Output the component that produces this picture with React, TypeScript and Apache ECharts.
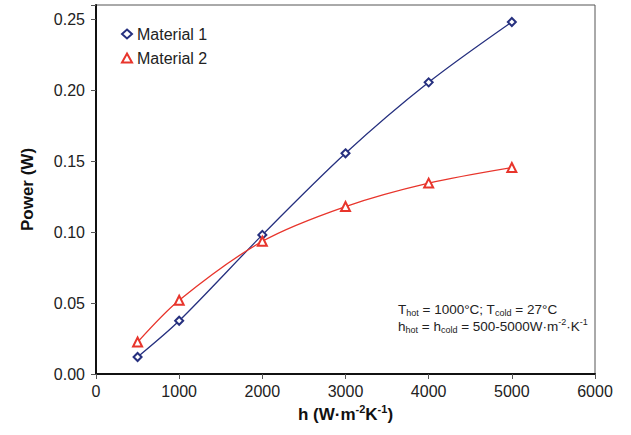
import React, { useEffect, useRef } from "react";
import * as echarts from "echarts";

const hValues = [500, 1000, 2000, 3000, 4000, 5000];
const material1 = [0.012, 0.0375, 0.098, 0.1555, 0.2055, 0.248];
const material2 = [0.0225, 0.052, 0.0935, 0.118, 0.1345, 0.1455];
const seriesNames = ["Material 1", "Material 2"];
const xTicks = { min: 0, max: 6000, interval: 1000 };
const yTicks = { min: 0, max: 0.26, interval: 0.05 };

const FONT = "Liberation Sans, Arial, Helvetica, sans-serif";
const BLUE = "#26307f";
const RED = "#e8352c";

export default function App() {
  const ref = useRef<HTMLDivElement>(null);
  useEffect(() => {
    if (!ref.current) return;
    const chart = echarts.init(ref.current, undefined, { renderer: "svg" });
    chart.setOption({
      animation: false,
      textStyle: { fontFamily: FONT },
      grid: {
        left: 96,
        right: 36,
        top: 5,
        bottom: 61,
        show: true,
        borderColor: "#555",
        borderWidth: 1,
        backgroundColor: "transparent",
      },
      legend: {
        orient: "vertical",
        left: 116,
        top: 21,
        itemGap: 8,
        itemWidth: 10,
        itemHeight: 9,
        textStyle: { fontSize: 16, color: "#222", fontFamily: FONT },
        data: [
          { name: seriesNames[0], icon: "emptyDiamond" },
          { name: seriesNames[1], icon: "emptyTriangle" },
        ],
      },
      xAxis: {
        type: "value",
        min: xTicks.min,
        max: xTicks.max,
        interval: xTicks.interval,
        name: "{b|h (W·m}{sup|-2}{b|K}{sup|-1}{b|)}",
        nameLocation: "middle",
        nameGap: 27,
        nameTextStyle: {
          rich: {
            b: { fontSize: 17, fontWeight: "bold", color: "#111", fontFamily: FONT, lineHeight: 19, verticalAlign: "bottom" },
            sup: { fontSize: 11, fontWeight: "bold", color: "#111", fontFamily: FONT, lineHeight: 19, verticalAlign: "top" },
          },
        },
        axisLine: { show: true, onZero: false, lineStyle: { color: "#111", width: 2 } },
        axisTick: { show: true, length: 5, lineStyle: { color: "#555", width: 1 } },
        axisLabel: {
          fontSize: 16,
          color: "#222",
          margin: 9,
          fontFamily: FONT,
          formatter: (v: number) => String(v),
        },
        splitLine: { show: false },
      },
      yAxis: {
        type: "value",
        min: yTicks.min,
        max: yTicks.max,
        interval: yTicks.interval,
        name: "Power (W)",
        nameLocation: "middle",
        nameGap: 60,
        nameTextStyle: { fontSize: 17, fontWeight: "bold", color: "#111", fontFamily: FONT },
        axisLine: { show: true, onZero: false, lineStyle: { color: "#111", width: 2 } },
        axisTick: { show: true, length: 5, lineStyle: { color: "#555", width: 1 } },
        axisLabel: {
          fontSize: 16,
          color: "#222",
          margin: 11,
          fontFamily: FONT,
          formatter: (v: number) => {
            const k = v / yTicks.interval;
            return Math.abs(k - Math.round(k)) < 1e-6 ? v.toFixed(2) : "";
          },
        },
        splitLine: { show: false },
      },
      series: [
        {
          name: seriesNames[0],
          type: "line",
          smooth: 0.3,
          data: hValues.map((h, i) => [h, material1[i]]),
          symbol: "emptyDiamond",
          symbolSize: 8,
          lineStyle: { color: BLUE, width: 1.3 },
          itemStyle: { color: BLUE, borderWidth: 1.5 },
        },
        {
          name: seriesNames[1],
          type: "line",
          smooth: 0.3,
          data: hValues.map((h, i) => [h, material2[i]]),
          symbol: "emptyTriangle",
          symbolSize: 9,
          lineStyle: { color: RED, width: 1.3 },
          itemStyle: { color: RED, borderWidth: 1.5 },
        },
      ],
      graphic: [
        {
          type: "text",
          left: 398,
          top: 302,
          style: {
            text: "{n|T}{s|hot}{n| = 1000°C; T}{s|cold}{n| = 27°C}\n{n|h}{s|hot}{n| = h}{s|cold}{n| = 500-5000W·m}{p|-2}{n|·K}{p|-1}",
            rich: {
              n: { fontSize: 13.5, fill: "#222", fontFamily: FONT, lineHeight: 17, verticalAlign: "middle" },
              s: { fontSize: 9, fill: "#222", fontFamily: FONT, lineHeight: 11, verticalAlign: "bottom" },
              p: { fontSize: 9, fill: "#222", fontFamily: FONT, lineHeight: 11, verticalAlign: "top" },
            },
          },
        },
      ],
    });
    return () => chart.dispose();
  }, []);
  return (
    <div
      ref={ref}
      style={{ position: "fixed", left: 0, top: 0, width: 631, height: 435, background: "#fff" }}
    />
  );
}
